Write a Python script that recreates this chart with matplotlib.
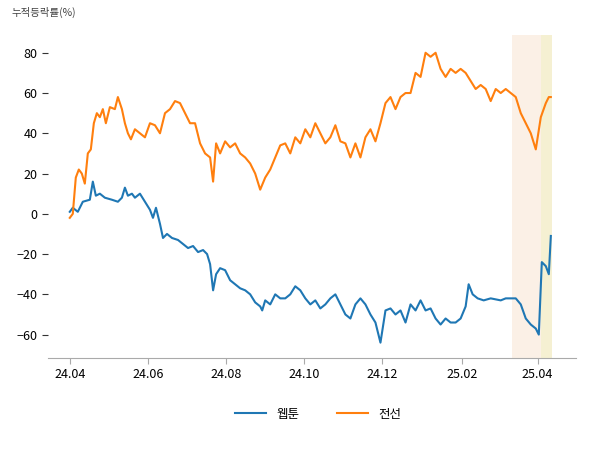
import matplotlib
matplotlib.use("Agg")
import matplotlib.pyplot as plt
from matplotlib import font_manager as fm
import pandas as pd

names = {f.name for f in fm.fontManager.ttflist}
cjk = [n for n in ["Noto Sans CJK KR", "Noto Sans CJK JP", "Noto Sans CJK SC", "Noto Sans KR"] if n in names]
if not cjk:
    for f in fm.findSystemFonts():
        if "CJK" in f or "Noto" in f and "KR" in f:
            fm.fontManager.addfont(f)
    names = {f.name for f in fm.fontManager.ttflist}
    cjk = [n for n in names if "CJK" in n]
plt.rcParams["font.family"] = cjk + ["DejaVu Sans"]

start = pd.Timestamp("2024-04-01")
# positions (chart px), converted to day offsets
blue_px = [70,73,78,83,90,93,96,100,105,112,118,122,125,128,132,135,140,145,150,153,156,160,163,167,172,178,183,188,193,198,203,207,210,213,216,220,225,230,235,240,245,250,255,260,262,265,270,275,280,285,290,295,300,305,310,315,320,325,330,335,340,345,350,355,360,365,370,375,380,385,390,395,400,405,410,415,420,425,430,435,440,445,450,455,460,465,468,472,477,483,490,500,505,515,520,525,530,535,538,541,545,548,550]
blue_val = [1,3,1,6,7,16,9,10,8,7,6,8,13,9,10,8,10,6,2,-2,3,-5,-12,-10,-12,-13,-15,-17,-16,-19,-18,-20,-25,-38,-30,-27,-28,-33,-35,-37,-38,-40,-44,-46,-48,-43,-45,-40,-42,-42,-40,-36,-38,-42,-45,-43,-47,-45,-42,-40,-45,-50,-52,-45,-42,-45,-50,-54,-64,-48,-47,-50,-48,-54,-45,-48,-43,-48,-47,-52,-55,-52,-54,-54,-52,-46,-35,-40,-42,-43,-42,-43,-42,-42,-45,-52,-55,-57,-60,-24,-26,-30,-11]
orange_px = [70,73,76,79,82,85,88,91,94,97,100,103,106,110,115,118,122,125,128,131,135,140,145,150,155,160,165,170,175,180,185,190,195,200,205,210,213,216,220,225,230,235,240,245,250,255,260,265,270,275,280,285,290,295,300,305,310,315,320,325,330,335,340,345,350,355,360,365,370,375,380,385,390,395,400,405,410,415,420,425,430,435,440,445,450,455,460,465,470,475,480,485,490,495,500,505,510,515,520,525,530,535,540,545,548,550]
orange_val = [-2,0,18,22,20,15,30,32,45,50,48,52,45,53,52,58,52,45,40,37,42,40,38,45,44,40,50,52,56,55,50,45,45,35,30,28,16,35,30,36,33,35,30,28,25,20,12,18,22,28,34,35,30,38,35,42,38,45,40,35,38,44,36,35,28,35,28,38,42,36,45,55,58,52,58,60,60,70,68,80,78,80,72,68,72,70,72,70,66,62,64,62,56,62,60,62,60,58,50,45,40,32,48,55,58,58]

def to_dates(px):
    return [start + pd.Timedelta(days=(p - 70) * 0.782) for p in px]

fig = plt.figure(figsize=(6, 4.5), dpi=100)
ax = fig.add_axes([0.08, 0.205, 0.88, 0.718])

ax.axvspan(pd.Timestamp("2025-03-12"), pd.Timestamp("2025-04-04"), color="#fbf0e6", lw=0)
ax.axvspan(pd.Timestamp("2025-04-04"), pd.Timestamp("2025-04-12"), color="#f5f0d2", lw=0)

ax.plot(to_dates(blue_px), blue_val, color="#1f77b4", lw=1.5, label="웹툰")
ax.plot(to_dates(orange_px), orange_val, color="#ff7f0e", lw=1.5, label="전선")

ax.set_ylim(-71.5, 89)
ax.set_yticks([-60, -40, -20, 0, 20, 40, 60, 80])
ticks = pd.to_datetime(["2024-04-01","2024-06-01","2024-08-01","2024-10-01","2024-12-01","2025-02-01","2025-04-01"])
ax.set_xticks(ticks)
ax.set_xticklabels(["24.04","24.06","24.08","24.10","24.12","25.02","25.04"])
ax.set_xlim(pd.Timestamp("2024-03-15"), pd.Timestamp("2025-05-01"))
for s in ["top", "right", "left"]:
    ax.spines[s].set_visible(False)
ax.spines["bottom"].set_color("#aaaaaa")
ax.tick_params(axis="y", direction="out", length=4, color="#333333", labelsize=9)
ax.tick_params(axis="x", length=4, color="#aaaaaa", labelsize=9)
fig.text(0.02, 0.965, "누적등락률(%)", fontsize=7.5, color="#444444")
fig.legend(loc="lower center", ncol=2, frameon=False, bbox_to_anchor=(0.53, 0.04), fontsize=9, handlelength=2.5, columnspacing=3)
fig.savefig("out.png")
